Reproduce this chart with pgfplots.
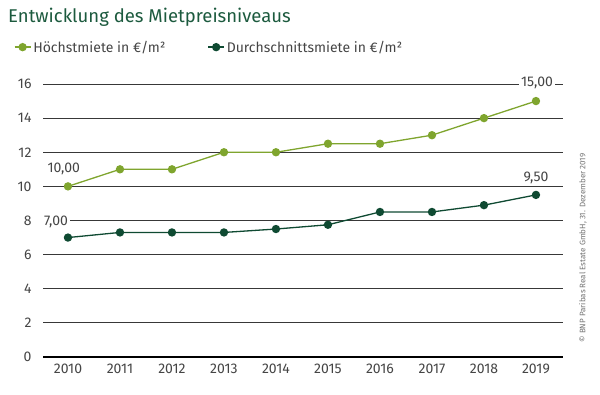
\documentclass[border=0pt]{standalone}
\usepackage{fontspec}
\setmainfont{Fira Sans}
\usepackage{pgfplots}
\pgfplotsset{compat=1.18}
\definecolor{lgreen}{HTML}{7FA52E}
\definecolor{dgreen}{HTML}{0F4A32}
\definecolor{titlegreen}{HTML}{1C5A3E}
\definecolor{txt}{HTML}{454545}
\begin{document}
\begin{tikzpicture}
\useasboundingbox (0pt,0pt) rectangle (600pt,-395pt);
\node[anchor=west,text=titlegreen,font=\fontsize{18.5}{20}\selectfont, inner sep=0pt] at (8pt,-17pt) {Entwicklung des Mietpreisniveaus};
\begin{axis}[
  at={(43pt,-357pt)}, anchor=south west,
  scale only axis, width=520pt, height=273pt,
  xmin=-0.48, xmax=9.52, ymin=0, ymax=16,
  axis line style={draw=none},
  tick style={draw=none},
  clip=false,
  xtick={0,...,9},
  xticklabels={2010,2011,2012,2013,2014,2015,2016,2017,2018,2019},
  ytick={0,2,...,16},
  major tick length=0pt,
  /pgf/number format/assume math mode=true,
  tick label style={font=\fontsize{14}{16}\selectfont, text=txt},
  xticklabel style={yshift=-3pt},
  yticklabel style={xshift=-8pt},
  legend style={at={(-0.062,1.135)}, anchor=west, draw=none, fill=none,
    font=\fontsize{14}{16}\selectfont, text=txt,
    /tikz/every even column/.append style={column sep=40pt}},
  legend columns=2,
  legend image code/.code={\draw[mark repeat=2,mark phase=2,#1] plot coordinates {(0pt,0pt) (8pt,0pt) (16pt,0pt)};},
]
% grid lines
\foreach \yy in {2,4,...,16} {
  \edef\tmp{\noexpand\draw[color=black!78, line width=0.8pt] (axis cs:-0.48,\yy) -- (axis cs:9.52,\yy);}
  \tmp
}
\draw[black, line width=2pt] (axis cs:-0.48,0) -- (axis cs:9.52,0);
\addplot[lgreen, line width=1.3pt, mark=*, mark size=3.5pt] coordinates {
 (0,10) (1,11) (2,11) (3,12) (4,12) (5,12.5) (6,12.5) (7,13) (8,14) (9,15)};
\addlegendentry{Höchstmiete in €/m²}
\addplot[dgreen, line width=1.3pt, mark=*, mark size=3.5pt] coordinates {
 (0,7.0) (1,7.3) (2,7.3) (3,7.3) (4,7.5) (5,7.75) (6,8.5) (7,8.5) (8,8.9) (9,9.5)};
\addlegendentry{Durchschnittsmiete in €/m²}
\node[fill=white, text=txt, inner sep=2pt, font=\fontsize{14}{16}\selectfont] at (axis cs:-0.08,11.05) {10,00};
\node[fill=white, text=txt, inner sep=2pt, anchor=west, font=\fontsize{14}{16}\selectfont] at (axis cs:-0.5,7.9) {7,00};
\node[fill=white, text=txt, inner sep=2pt, font=\fontsize{14}{16}\selectfont] at (axis cs:9.02,16.05) {15,00};
\node[fill=white, text=txt, inner sep=2pt, font=\fontsize{14}{16}\selectfont] at (axis cs:9.0,10.5) {9,50};
\end{axis}
\node[rotate=90, text=black!55, font=\fontsize{8}{9}\selectfont] at (583pt,-248pt) {© BNP Paribas Real Estate GmbH, 31. Dezember 2019};
\end{tikzpicture}
\end{document}
